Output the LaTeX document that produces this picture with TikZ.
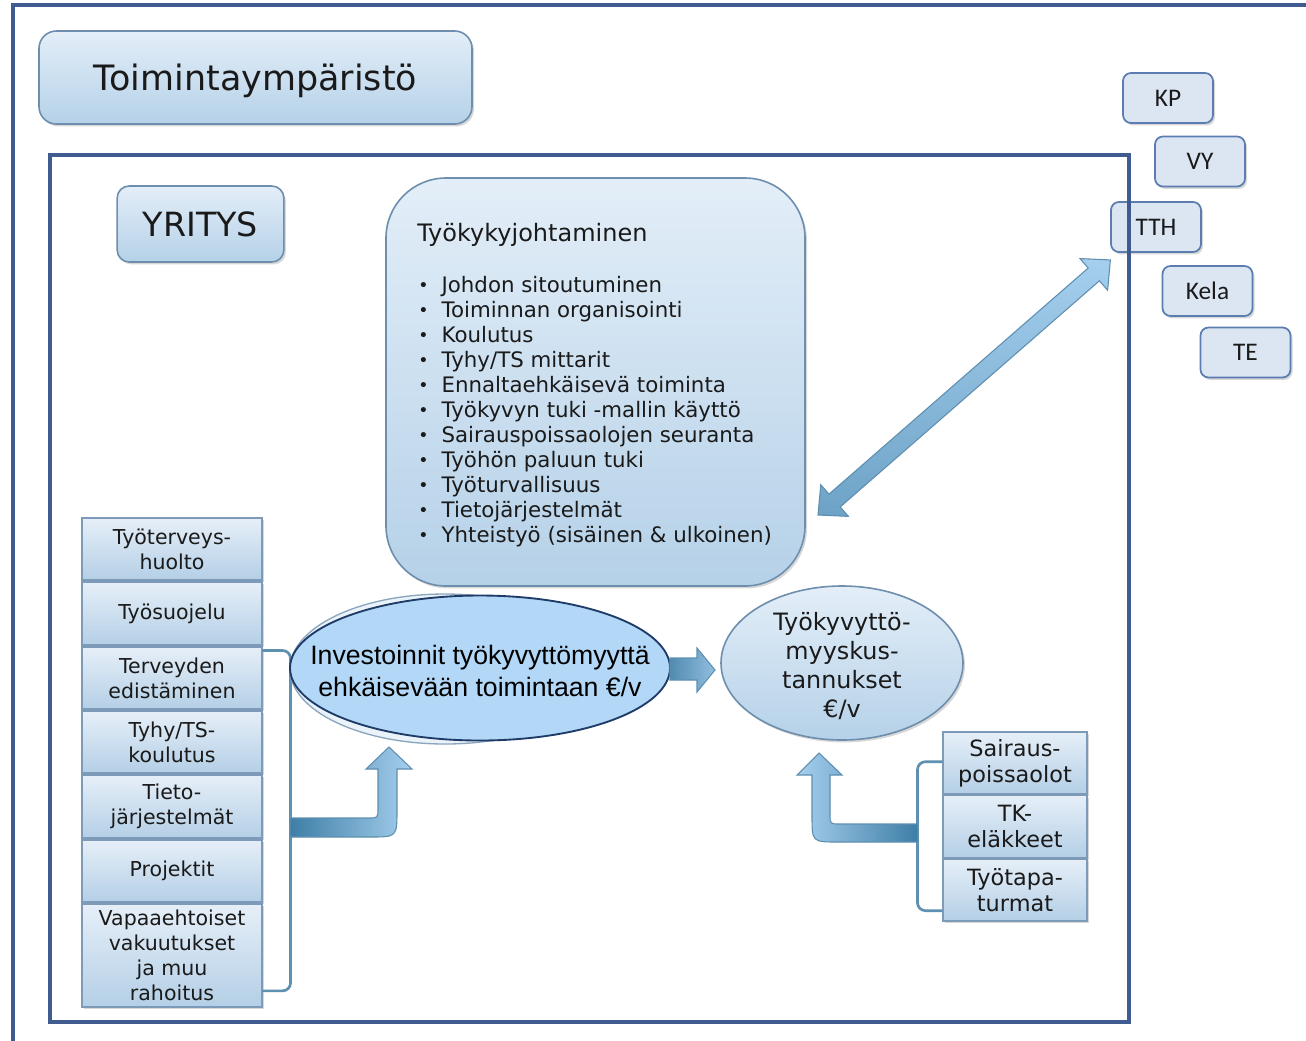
\documentclass[tikz,border=0pt]{standalone}
\usepackage{fontspec}
\setmainfont{DejaVu Sans}
\newfontfamily\arialf{Liberation Sans}
\newfontfamily\calf{Carlito}
\usetikzlibrary{shapes.geometric,shadows,calc}
\definecolor{gtop}{HTML}{E3EEF8}
\definecolor{gbot}{HTML}{B5D1E8}
\definecolor{boxedge}{HTML}{6E8EAD}
\definecolor{ctop}{HTML}{E6EFF8}
\definecolor{cbot}{HTML}{B4CFE6}
\definecolor{coledge}{HTML}{7D9AB8}
\definecolor{sfill}{HTML}{DCE6F3}
\definecolor{sedge}{HTML}{5B7DB0}
\definecolor{invfill}{HTML}{B3D8F7}
\definecolor{invedge}{HTML}{1F3B68}
\definecolor{adark}{HTML}{3E7EA6}
\definecolor{alight}{HTML}{A6CFEE}
\definecolor{aedge}{HTML}{5E8FB0}
\definecolor{brk}{HTML}{5E90B2}
\definecolor{frameblue}{HTML}{3F5B8F}
\definecolor{txt}{HTML}{1A1A1A}
\newcommand\bulmark{\raisebox{0.6pt}{\fontsize{13}{13}\selectfont •}}
\begin{document}
\begin{tikzpicture}[x=0.75pt,y=-0.75pt,
  shadowed/.style={drop shadow={shadow xshift=1.5pt,shadow yshift=-1.8pt,opacity=0.25,fill=black!60}},
  gbox/.style={draw=boxedge,line width=1.2pt,top color=gtop,bottom color=gbot,inner sep=0pt,text=txt,shadowed},
  colbox/.style={draw=coledge,line width=0.8pt,top color=ctop,bottom color=cbot,inner sep=0pt,text=txt,
     align=center,minimum width=135pt,font=\fontsize{15.4}{18.75}\selectfont,shadowed},
  rcolbox/.style={colbox,minimum width=108pt,minimum height=46.5pt,font=\fontsize{16.8}{19.5}\selectfont},
  sbox/.style={draw=sedge,line width=1.3pt,fill=sfill,rounded corners=6pt,minimum width=67.5pt,
     minimum height=37.5pt,inner sep=0pt,font=\calf\fontsize{19}{21}\selectfont,text=txt,shadowed},
  listline/.style={anchor=base west,inner sep=0pt,text=txt,font=\fontsize{16}{19}\selectfont},
  bracket/.style={draw=brk,line width=2pt,rounded corners=6pt},
  blockarrow/.style={draw=aedge,line width=0.8pt},
  framebox/.style={draw=frameblue,line width=2.4pt}
]
\useasboundingbox (0,0) rectangle (1306,1040);
\fill[white] (0,0) rectangle (1306,1040);

% title boxes
\node[gbox,rounded corners=13pt,minimum width=324.75pt,minimum height=69.75pt,text depth=0pt,
      font=\fontsize{26.2}{30}\selectfont] (toim) at (255.5,77.5) {Toimintaympäristö};
\node[gbox,rounded corners=9pt,minimum width=125pt,minimum height=57pt,
      font=\fontsize{25}{30}\selectfont] (yritys) at (200.5,224) {YRITYS};

% Tyokykyjohtaminen
\node[gbox,rounded corners=45pt,minimum width=314.25pt,minimum height=306pt] (tyk) at (595.5,382) {};
\node[anchor=base west,inner sep=0pt,text=txt,font=\fontsize{18}{22}\selectfont] (tyktitle) at (417,241) {Työkykyjohtaminen};
\foreach \t [count=\i] in {Johdon sitoutuminen,Toiminnan organisointi,Koulutus,Tyhy/TS mittarit,
  Ennaltaehkäisevä toiminta,Työkyvyn tuki -mallin käyttö,Sairauspoissaolojen seuranta,
  Työhön paluun tuki,Työturvallisuus,Tietojärjestelmät,Yhteistyö (sisäinen \& ulkoinen)}
  \node[listline] (li\i) at (418,267+25*\i) {\makebox[17.5pt][l]{\bulmark}\t};

% left column
\node[colbox,minimum height=46.5pt] (c1) at (172,549) {Työterveys-\\huolto};
\node[colbox,minimum height=47.25pt] (c2) at (172,613.5) {Työsuojelu};
\node[colbox,minimum height=46.5pt] (c3) at (172,678) {Terveyden\\edistäminen};
\node[colbox,minimum height=46.5pt] (c4) at (172,742) {Tyhy/TS-\\koulutus};
\node[colbox,minimum height=47.25pt] (c5) at (172,806.5) {Tieto-\\järjestelmät};
\node[colbox,minimum height=46.5pt] (c6) at (172,871) {Projektit};
\node[colbox,minimum height=77.25pt] (c7) at (172,955.5) {Vapaaehtoiset\\vakuutukset\\ja muu\\rahoitus};

% right column
\node[rcolbox] (r1) at (1015,763) {Sairaus-\\poissaolot};
\node[rcolbox] (r2) at (1015,826.5) {TK-\\eläkkeet};
\node[rcolbox] (r3) at (1015,890) {Työtapa-\\turmat};

% brackets
\draw[bracket] ([yshift=-3pt]c3.north east) -- ++(28,0) |- ([yshift=12.5pt]c7.south east);
\draw[bracket] ([yshift=1pt]r1.west) -- ++(-25,0) |- ([yshift=-15.5pt]r3.center -| r3.west);

% ellipses
\node[ellipse,minimum width=232.5pt,minimum height=112.5pt,inner sep=0pt,fill=gtop!70!white,draw=boxedge!80,line width=1pt] (invbg) at (445,669) {};
\node[ellipse,minimum width=285pt,minimum height=108.75pt,inner sep=0pt,fill=invfill,draw=invedge,line width=1.4pt] (inv) at (480,668) {};
\node[align=center,inner sep=0pt,text=black,font=\arialf\fontsize{20}{24}\selectfont] (invtext) at ([yshift=-2pt]inv.center)
      {Investoinnit työkyvyttömyyttä\\ehkäisevään toimintaan €/v};
\node[ellipse,minimum width=181.5pt,minimum height=115.5pt,top color=gtop,bottom color=gbot,draw=boxedge,
      line width=1.2pt,inner sep=0pt,shadowed] (cost) at (842,663) {};
\node[align=center,inner sep=0pt,text=txt,font=\fontsize{17.9}{21.75}\selectfont] (costtext) at ([yshift=-2.5pt]cost.center)
      {Työkyvyttö-\\myyskus-\\tannukset\\€/v};

% block arrows
\path[blockarrow,left color=adark,right color=alight]
  (290,818) -- (368,818) .. controls (378,818) .. (378,808) -- (378,769) -- (366,769) -- (389,747)
  -- (412,769) -- (397,769) -- (397,810) .. controls (397,837) .. (370,837) -- (290,837) -- cycle;
\path[blockarrow,left color=alight,right color=adark]
  (918,824) -- (840,824) .. controls (830,824) .. (830,814) -- (830,775) -- (842,775) -- (819,753)
  -- (797,775) -- (812,775) -- (812,816) .. controls (812,842) .. (838,842) -- (918,842) -- cycle;
\path[blockarrow,left color=adark!90,right color=alight!80!adark]
  (670,658) -- (697,658) -- (697,648) -- (715,670) -- (697,692) -- (697,680) -- (670,680) -- cycle;
\begin{scope}[shift={(818,515)},rotate=41.1]
  \path[blockarrow,top color=alight,bottom color=adark!55!alight]
   (0,0) -- (22,21) -- (22,8.5) -- (366,8.5) -- (366,21) -- (388,0) -- (366,-21) -- (366,-8.5)
   -- (22,-8.5) -- (22,-21) -- cycle;
\end{scope}

% small boxes
\node[sbox] (kp) at (1168,98) {KP};
\node[sbox] (vy) at (1200,161.5) {VY};
\node[sbox] (tth) at (1156,227) {TTH};
\node[sbox] (kela) at (1207.5,291) {Kela};
\node[sbox] (te) at (1245.5,352.5) {TE};

% frames
\draw[framebox] (13,5) rectangle (1340,1060);
\draw[framebox] (50,155) rectangle (1129,1022);
\end{tikzpicture}
\end{document}
